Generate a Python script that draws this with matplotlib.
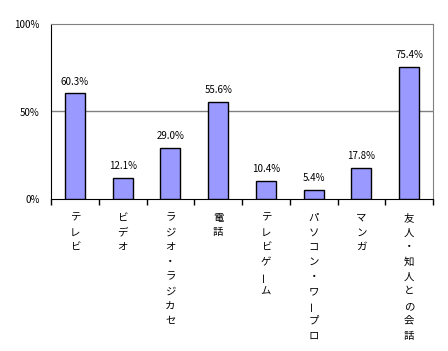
import matplotlib.pyplot as plt
from matplotlib.ticker import FuncFormatter
from matplotlib.transforms import offset_copy

plt.rcParams['font.family'] = ['Noto Sans CJK JP', 'DejaVu Sans']

categories = ["テレビ", "ビデオ", "ラジオ・ラジカセ", "電話", "テレビゲーム",
              "パソコン・ワープロ", "マンガ", "友人・知人との会話"]
values = [60.3, 12.1, 29.0, 55.6, 10.4, 5.4, 17.8, 75.4]

fig = plt.figure(figsize=(4.48, 3.51), dpi=100)
ax = fig.add_axes([51 / 448, 1 - 199 / 351, 382 / 448, 175 / 351])

x = list(range(len(categories)))
ax.bar(x, values, width=0.42, color="#9999ff", edgecolor="black", linewidth=1, zorder=3)
ax.set_xlim(-0.5, len(categories) - 0.5)
ax.set_ylim(0, 100)

# value labels
for xi, v in zip(x, values):
    ax.annotate(f"{v:.1f}%", (xi, v), xytext=(0, 5), textcoords="offset points",
                ha="center", va="bottom", fontsize=7)

ax.set_yticks([0, 50, 100])
ax.yaxis.set_major_formatter(FuncFormatter(lambda v, p: f"{v:.0f}%"))
ax.tick_params(axis="y", labelsize=7, length=0, pad=8)
ax.axhline(50, color="#808080", linewidth=1, zorder=1)

ax.set_xticks([i - 0.5 for i in range(len(categories) + 1)])
ax.set_xticklabels([])
ax.tick_params(axis="x", length=4, width=1, direction="out", color="black")

for side in ["top", "right"]:
    ax.spines[side].set_color("#808080")
for side in ["left", "bottom"]:
    ax.spines[side].set_color("black")

# vertical category labels, one character per line
for xi, name in zip(x, categories):
    for k, ch in enumerate(name):
        tr = offset_copy(ax.get_xaxis_transform(), fig=fig, x=0, y=-13.5 - k * 10.6, units="points")
        rot = 90 if ch == "ー" else 0
        ax.text(xi, 0, ch, transform=tr, ha="center", va="center", fontsize=7.5,
                rotation=rot, clip_on=False)

fig.savefig("out.png", dpi=100)
